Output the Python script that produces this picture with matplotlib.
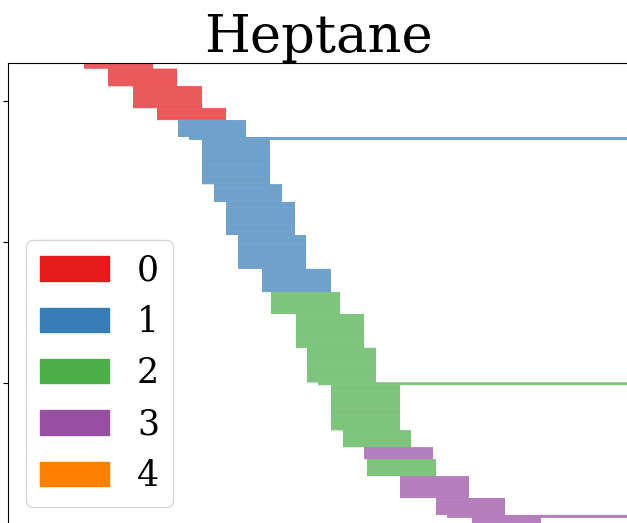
import numpy as np
import matplotlib
matplotlib.use("Agg")
import matplotlib.pyplot as plt
import matplotlib.patches as mpatches

plt.rcParams['font.family'] = 'serif'

# persistence intervals, listed top to bottom: dimension, birth, death, multiplicity
dims = [0, 0, 0, 0, 1, 1, 1, 1, 1, 1, 1, 2, 2, 2, 2, 2, 2, 3, 2, 3, 3, 3, 3]
births = [0.76, 1.00, 1.25, 1.49, 1.70, 1.81, 1.94, 2.06, 2.18, 2.30, 2.54,
          2.63, 2.88, 2.99, 3.10, 3.23, 3.35, 3.56, 3.59, 3.92, 4.28, 4.39, 4.64]
deaths = [1.45, 1.69, 1.94, 2.18, 2.38, np.inf, 2.62, 2.74, 2.87, 2.98, 3.23,
          3.32, 3.56, 3.68, np.inf, 3.92, 4.03, 4.25, 4.28, 4.61, 4.97, np.inf, 5.33]
counts = [8, 25, 31, 17, 24, 4, 63, 25, 47, 48, 33,
          31, 48, 49, 4, 64, 24, 17, 24, 31, 24, 4, 15]

colors = ['#e41a1c', '#377eb8', '#4daf4a', '#984ea3', '#ff7f00']
infinity = 7.5

fig = plt.figure(figsize=(6.27, 5.23), dpi=100)
W, H = 627.0, 523.0
# axes runs past the right and bottom of the canvas
left, top, right, bottom = 8, 63, 629, 560
ax = fig.add_axes([left / W, 1 - bottom / H, (right - left) / W, (bottom - top) / H])

d_all = np.repeat(dims, counts)
b_all = np.repeat(births, counts)
e_all = np.repeat(deaths, counts)
e_all = np.where(np.isinf(e_all), infinity, e_all)
ytop = 654
ys = ytop - 0.5 - np.arange(len(d_all))

for d in range(5):
    m = d_all == d
    if m.any():
        ax.barh(ys[m], e_all[m] - b_all[m], height=1.0, left=b_all[m],
                color=colors[d], alpha=0.9, linewidth=0, snap=False)

ppu = 0.705  # pixels per bar
ax.set_ylim(ytop - (bottom - top) / ppu, ytop)
ax.set_xlim(0, (right - left) / 100.0)
ax.set_yticks([200, 400, 600])
ax.tick_params(axis='y', labelleft=False, length=3.5)
ax.set_xticks([])

ax.set_title("Heptane", fontsize=38)

handles = [mpatches.Patch(color=colors[i], label=str(i)) for i in range(5)]
fig.legend(handles=handles, loc='lower left', bbox_to_anchor=(26 / W, 1 - 507 / H),
           bbox_transform=fig.transFigure, borderaxespad=0, fontsize=25)

fig.savefig("out.png", dpi=100)
